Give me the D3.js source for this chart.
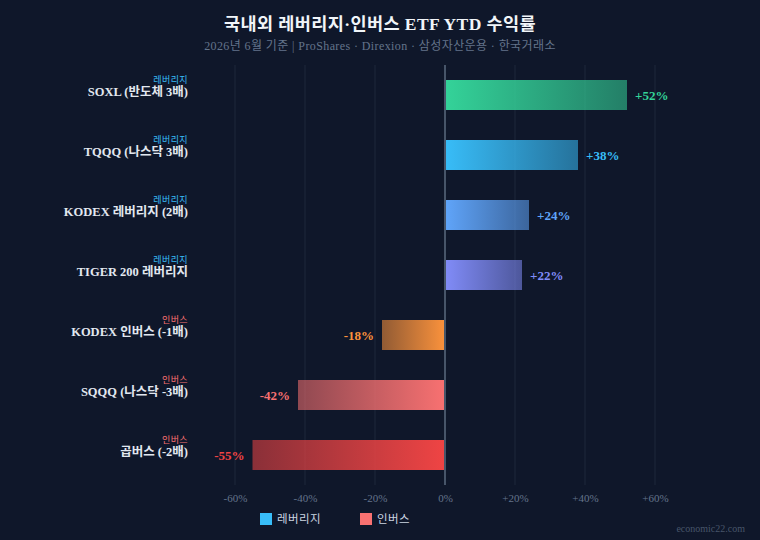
<!DOCTYPE html>
<html><head><meta charset="utf-8">
<script src="https://cdn.jsdelivr.net/npm/d3@7"></script>
<style>
html,body{margin:0;padding:0;background:#0f172a;}
text{font-family:"Liberation Serif","Noto Sans CJK KR",serif;}
</style></head>
<body><svg id="c" width="760" height="540"></svg>
<script>
const names = ["SOXL (반도체 3배)","TQQQ (나스닥 3배)","KODEX 레버리지 (2배)","TIGER 200 레버리지","KODEX 인버스 (-1배)","SQQQ (나스닥 -3배)","곱버스 (-2배)"];
const types = ["레버리지","레버리지","레버리지","레버리지","인버스","인버스","인버스"];
const values = [52, 38, 24, 22, -18, -42, -55];
const colors = ["#34d399","#38bdf8","#60a5fa","#818cf8","#fb923c","#f87171","#ef4444"];
const ticks = [-60,-40,-20,0,20,40,60];
const legendItems = ["레버리지","인버스"];
const legendColors = ["#38bdf8","#f87171"];
const typeColors = {"레버리지":"#38bdf8","인버스":"#f87171"};

const data = names.map((n,i)=>({name:n,type:types[i],value:values[i],color:colors[i]}));
const svg = d3.select("#c");
svg.append("rect").attr("width",760).attr("height",540).attr("fill","#0f172a");

const x = d3.scaleLinear().domain([-60,60]).range([235,655]);
const y = d3.scaleBand().domain(names).range([65,485]).paddingInner(0.5).paddingOuter(0.25);

const defs = svg.append("defs");
data.forEach((d,i)=>{
  const g = defs.append("linearGradient").attr("id","g"+i).attr("x1","0").attr("x2","1").attr("y1","0").attr("y2","0");
  if(d.value>=0){
    g.append("stop").attr("offset","0%").attr("stop-color",d.color).attr("stop-opacity",1);
    g.append("stop").attr("offset","100%").attr("stop-color",d.color).attr("stop-opacity",0.55);
  } else {
    g.append("stop").attr("offset","0%").attr("stop-color",d.color).attr("stop-opacity",0.55);
    g.append("stop").attr("offset","100%").attr("stop-color",d.color).attr("stop-opacity",1);
  }
});

// title
svg.append("text").attr("x",380).attr("y",30).attr("text-anchor","middle").attr("fill","#f1f5f9")
  .attr("font-size",17.5).attr("font-weight","bold").attr("letter-spacing",0.4).text("국내외 레버리지·인버스 ETF YTD 수익률");
svg.append("text").attr("x",380).attr("y",50).attr("text-anchor","middle").attr("fill","#64748b")
  .attr("font-size",12).attr("letter-spacing",0.4).text("2026년 6월 기준 | ProShares · Direxion · 삼성자산운용 · 한국거래소");

// grid
svg.append("g").selectAll("line").data(ticks).join("line")
  .attr("x1",d=>x(d)).attr("x2",d=>x(d)).attr("y1",65).attr("y2",485)
  .attr("stroke","#1e293b").attr("stroke-width",1);

// bars
svg.append("g").selectAll("rect").data(data).join("rect")
  .attr("x",d=>x(Math.min(0,d.value))).attr("y",d=>y(d.name))
  .attr("width",d=>Math.abs(x(d.value)-x(0))).attr("height",y.bandwidth())
  .attr("fill",(d,i)=>`url(#g${i})`);

// zero line
svg.append("line").attr("x1",x(0)).attr("x2",x(0)).attr("y1",65).attr("y2",485)
  .attr("stroke","#475569").attr("stroke-width",2);

// value labels
svg.append("g").selectAll("text").data(data).join("text")
  .attr("x",d=>d.value>=0? x(d.value)+8 : x(d.value)-8)
  .attr("y",d=>y(d.name)+y.bandwidth()/2+5)
  .attr("text-anchor",d=>d.value>=0?"start":"end")
  .attr("fill",d=>d.color).attr("font-size",13).attr("font-weight","bold")
  .text(d=>(d.value>0?"+":"")+d.value+"%");

// category labels
const lab = svg.append("g");
lab.selectAll("text.nm").data(data).join("text").attr("class","nm")
  .attr("x",188).attr("y",d=>y(d.name)+y.bandwidth()/2+1)
  .attr("text-anchor","end").attr("fill","#e2e8f0").attr("font-size",12.5).attr("font-weight","bold")
  .text(d=>d.name);
lab.selectAll("text.tp").data(data).join("text").attr("class","tp")
  .attr("x",188).attr("y",d=>y(d.name)+y.bandwidth()/2-12)
  .attr("text-anchor","end").attr("fill",d=>typeColors[d.type]).attr("font-size",9).attr("letter-spacing",0.4)
  .text(d=>d.type);

// x axis
const ax = svg.append("g").attr("transform","translate(0,485)")
  .call(d3.axisBottom(x).tickValues(ticks).tickSize(0).tickPadding(9).tickFormat(d=>(d>0?"+":"")+d+"%"));
ax.select(".domain").remove();
ax.selectAll("text").attr("fill","#64748b").attr("font-size",11).attr("font-family",'"Liberation Serif",serif');

// legend
const lg = svg.append("g");
legendItems.forEach((t,i)=>{
  const lx = 260 + i*100;
  lg.append("rect").attr("x",lx).attr("y",513).attr("width",12).attr("height",12).attr("fill",legendColors[i]);
  lg.append("text").attr("x",lx+17).attr("y",523).attr("fill","#cbd5e1").attr("font-size",11.5).attr("letter-spacing",0.4).text(t);
});

// watermark
svg.append("text").attr("x",745).attr("y",532).attr("text-anchor","end").attr("fill","#475569")
  .attr("font-size",10).text("economic22.com");
</script></body></html>
